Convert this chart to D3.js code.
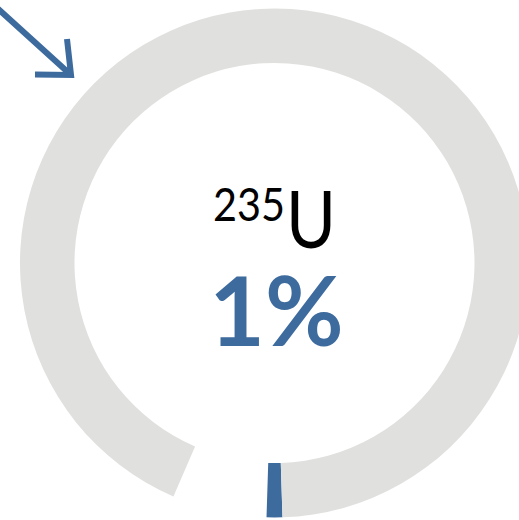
<!DOCTYPE html>
<html>
<head>
<meta charset="utf-8">
<script src="https://cdn.jsdelivr.net/npm/d3@7"></script>
<style>
  body { margin: 0; background: #fff; }
  svg { display: block; }
</style>
</head>
<body>
<svg id="chart" width="519" height="520"></svg>
<script>
// ring slices, clockwise from the bottom
const sliceNames = ["U-235", "gap", "U-238"];
const sliceValues = [1, 6, 93];
const sliceColors = ["#3e6b9e", "none", "#e0e0df"];

const isotopeMass = "235";
const isotopeSymbol = "U";
const shareLabel = "1%";

const svg = d3.select("#chart"),
    width = +svg.attr("width"),
    height = +svg.attr("height");

const cx = 274.5, cy = 263;
const outerR = 254.5, innerR = 200;

// blue slice centred on the bottom of the ring
const start = Math.PI - (sliceValues[0] / d3.sum(sliceValues)) * Math.PI;

const pie = d3.pie()
    .sort(null)
    .value(function(d) { return d; })
    .startAngle(start)
    .endAngle(start + 2 * Math.PI);

const arc = d3.arc()
    .innerRadius(innerR)
    .outerRadius(outerR);

const ring = svg.append("g")
    .attr("transform", "translate(" + cx + "," + cy + ")");

ring.selectAll("path")
    .data(pie(sliceValues))
    .enter().append("path")
    .attr("class", function(d, i) { return "slice " + sliceNames[i]; })
    .attr("d", arc)
    .style("fill", function(d, i) { return sliceColors[i]; });

// arrow in the top-left corner
svg.append("path")
    .attr("d", "M-4,7 L71,75 M67,39 L71,75 L35,74.5")
    .style("fill", "none")
    .style("stroke", "#3e6b9e")
    .style("stroke-width", 6)
    .style("stroke-linejoin", "miter");

// centre label: superscript mass number + element symbol
svg.append("text")
    .attr("x", 285)
    .attr("y", 221)
    .attr("text-anchor", "end")
    .attr("textLength", 72)
    .attr("lengthAdjust", "spacingAndGlyphs")
    .style("font-family", "Lato, sans-serif")
    .style("font-size", "46px")
    .style("fill", "#000")
    .text(isotopeMass);

svg.append("text")
    .attr("x", 286)
    .attr("y", 248)
    .attr("textLength", 50)
    .attr("lengthAdjust", "spacingAndGlyphs")
    .style("font-family", "Lato, sans-serif")
    .style("font-size", "80px")
    .style("fill", "#000")
    .text(isotopeSymbol);

svg.append("text")
    .attr("x", cx + 2)
    .attr("y", 346)
    .attr("text-anchor", "middle")
    .style("font-family", "Lato, sans-serif")
    .style("font-weight", "bold")
    .style("font-size", "96px")
    .style("fill", "#3e6b9e")
    .text(shareLabel);
</script>
</body>
</html>
